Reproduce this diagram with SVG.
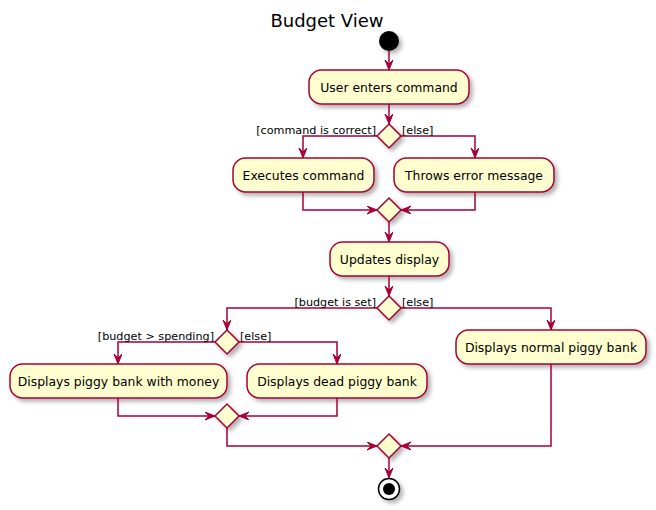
<svg xmlns="http://www.w3.org/2000/svg" width="656" height="510" viewBox="0 0 656 510">
<style>
.box{fill:#FEFECE;stroke:#A80036;stroke-width:1.5;filter:url(#sh)}
.dia{fill:#FEFECE;stroke:#A80036;stroke-width:1.5;filter:url(#sh)}
.t{font-family:"DejaVu Sans",sans-serif;font-size:12.4px;fill:#000;text-anchor:middle}
.l{font-family:"DejaVu Sans",sans-serif;font-size:11.2px;fill:#000}
.c{fill:none;stroke:#A80036;stroke-width:1.5;marker-end:url(#ah)}
</style>
<defs>
<filter id="sh" x="-20%" y="-20%" width="150%" height="170%">
<feDropShadow dx="3" dy="3" stdDeviation="2" flood-color="#000" flood-opacity="0.3"/>
</filter>
<marker id="ah" markerUnits="userSpaceOnUse" markerWidth="12" markerHeight="10" refX="10" refY="4" orient="auto" viewBox="0 0 12 10">
<path d="M0,0 L10,4 L0,8 L4,4 Z" fill="#A80036" stroke="#A80036" stroke-width="1"/>
</marker>
</defs>
<rect width="656" height="510" fill="#fff"/>
<text x="327" y="27" font-family="DejaVu Sans,sans-serif" font-size="18" text-anchor="middle">Budget View</text>

<g id="start"><circle cx="389" cy="41" r="10" fill="#000" filter="url(#sh)"/></g>

<g id="n1"><rect class="box" x="309" y="70" width="160" height="34" rx="12.5"/><text class="t" x="389" y="92">User enters command</text></g>
<g id="d1"><polygon class="dia" points="389,124 401,136 389,148 377,136"/></g>
<g id="n2"><rect class="box" x="233" y="158" width="141" height="34" rx="12.5"/><text class="t" x="303.5" y="180">Executes command</text></g>
<g id="n3"><rect class="box" x="394" y="158" width="160" height="34" rx="12.5"/><text class="t" x="474" y="180">Throws error message</text></g>
<g id="d2"><polygon class="dia" points="389,198 401,210 389,222 377,210"/></g>
<g id="n4"><rect class="box" x="330" y="242" width="119" height="34" rx="12.5"/><text class="t" x="389.5" y="264">Updates display</text></g>
<g id="d3"><polygon class="dia" points="389,296 401,308 389,320 377,308"/></g>
<g id="d4"><polygon class="dia" points="227,330 239,342 227,354 215,342"/></g>
<g id="n5"><rect class="box" x="10" y="364" width="217" height="34" rx="12.5"/><text class="t" x="118.5" y="386">Displays piggy bank with money</text></g>
<g id="n6"><rect class="box" x="247" y="364" width="180" height="34" rx="12.5"/><text class="t" x="337" y="386">Displays dead piggy bank</text></g>
<g id="n7"><rect class="box" x="456" y="330" width="190" height="34" rx="12.5"/><text class="t" x="551" y="352">Displays normal piggy bank</text></g>
<g id="d5"><polygon class="dia" points="227,404 239,416 227,428 215,416"/></g>
<g id="d6"><polygon class="dia" points="389,434 401,446 389,458 377,446"/></g>
<g id="end"><circle cx="389" cy="489" r="10.5" fill="#fff" stroke="#000" stroke-width="1.5" filter="url(#sh)"/><circle cx="389" cy="489" r="6" fill="#000"/></g>

<g id="connectors">
<path class="c" d="M389,51 L389,70"/>
<path class="c" d="M389,104 L389,124"/>
<path class="c" d="M377,136 L303,136 L303,158"/>
<path class="c" d="M401,136 L475,136 L475,158"/>
<path class="c" d="M303,192 L303,210 L377,210"/>
<path class="c" d="M475,192 L475,210 L401,210"/>
<path class="c" d="M389,222 L389,242"/>
<path class="c" d="M389,276 L389,296"/>
<path class="c" d="M377,308 L227,308 L227,330"/>
<path class="c" d="M401,308 L551,308 L551,330"/>
<path class="c" d="M215,342 L118,342 L118,364"/>
<path class="c" d="M239,342 L337,342 L337,364"/>
<path class="c" d="M118,398 L118,416 L215,416"/>
<path class="c" d="M337,398 L337,416 L239,416"/>
<path class="c" d="M227,428 L227,446 L377,446"/>
<path class="c" d="M551,364 L551,446 L401,446"/>
<path class="c" d="M389,458 L389,478"/>
<text class="l" x="376" y="134" text-anchor="end">[command is correct]</text>
<text class="l" x="402" y="134">[else]</text>
<text class="l" x="376" y="306" text-anchor="end">[budget is set]</text>
<text class="l" x="402" y="306">[else]</text>
<text class="l" x="214" y="340" text-anchor="end">[budget &gt; spending]</text>
<text class="l" x="240" y="340">[else]</text>
</g>
</svg>
